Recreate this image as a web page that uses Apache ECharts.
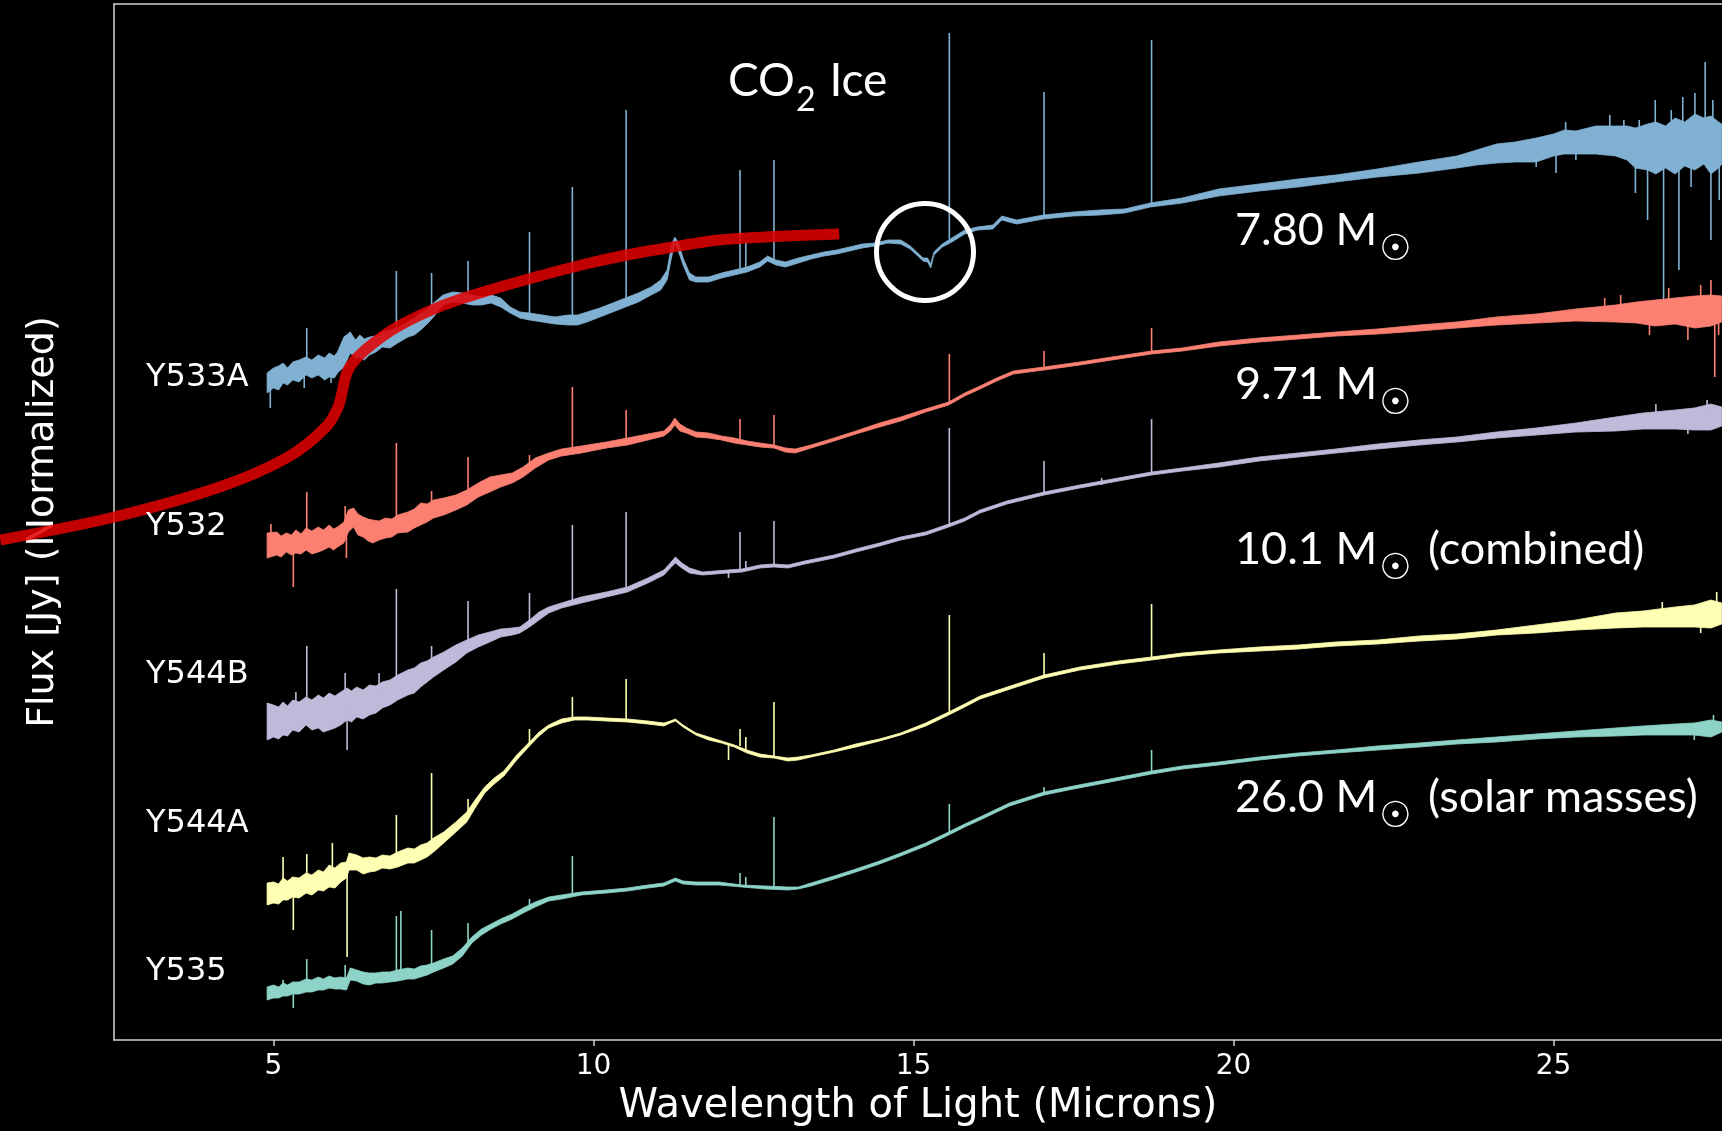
<!DOCTYPE html>
<html>
<head>
<meta charset="utf-8">
<script src="https://cdn.jsdelivr.net/npm/echarts@6/dist/echarts.min.js"></script>
<style>
html,body{margin:0;padding:0;background:#000;}
#chart{width:1722px;height:1131px;}
</style>
</head>
<body>
<div id="chart"></div>
<script>
// ---------------- DATA ----------------
// x: wavelength (microns); y: normalized flux (arbitrary offset units)
const xTicks = [5, 10, 15, 20, 25];
const sourceNames = ['Y533A', 'Y532', 'Y544B', 'Y544A', 'Y535'];
const massValues = ['7.80', '9.71', '10.1', '26.0'];
const massNotes = ['', '', ' (combined)', ' (solar masses)'];
const featureLabel = ['CO', '2', ' Ice'];

// rows: [wavelength, lower edge of noise band, upper edge of noise band]
const bandY533A = [
[4.90,6.47,6.67],[5.00,6.52,6.72],[5.08,6.50,6.74],[5.15,6.57,6.77],[5.22,6.55,6.72],[5.30,6.60,6.78],[5.40,6.58,6.80],[5.51,6.65,6.83],[5.60,6.62,6.80],[5.70,6.65,6.85],
[5.80,6.60,6.82],[5.87,6.63,6.87],[5.95,6.62,6.84],[6.00,6.67,6.88],[6.10,6.73,7.03],[6.20,6.87,7.08],[6.28,6.82,7.00],[6.35,6.83,7.05],[6.42,6.80,7.01],[6.50,6.85,7.03],
[6.60,6.88,7.04],[6.70,6.93,7.08],[6.82,6.92,7.10],[6.94,6.97,7.12],[7.10,7.03,7.18],[7.20,7.05,7.22],[7.30,7.10,7.27],[7.40,7.16,7.31],[7.50,7.23,7.37],[7.65,7.35,7.45],
[7.80,7.38,7.48],[7.95,7.37,7.47],[8.10,7.35,7.45],[8.25,7.35,7.43],[8.40,7.37,7.45],[8.55,7.33,7.42],
[8.70,7.27,7.33],[8.85,7.22,7.28],[9.00,7.20,7.27],[9.20,7.18,7.25],[9.40,7.16,7.23],[9.60,7.15,7.25],
[9.75,7.15,7.25],[9.90,7.18,7.28],[10.10,7.23,7.32],[10.30,7.28,7.37],[10.50,7.33,7.42],[10.70,7.38,7.47],
[10.90,7.45,7.53],[11.05,7.50,7.60],[11.15,7.60,7.70],[11.22,7.83,7.95],[11.27,7.97,8.03],[11.33,7.88,7.97],
[11.40,7.75,7.82],[11.50,7.60,7.67],[11.60,7.58,7.63],[11.80,7.58,7.63],[12.00,7.62,7.67],[12.20,7.65,7.70],
[12.40,7.68,7.73],[12.60,7.73,7.78],[12.72,7.79,7.84],[12.85,7.75,7.80],[13.00,7.73,7.78],[13.20,7.77,7.82],
[13.40,7.81,7.85],[13.60,7.84,7.88],[13.80,7.86,7.90],[14.00,7.89,7.93],[14.20,7.92,7.96],[14.40,7.94,7.97],
[14.60,7.97,8.00],[14.80,7.96,8.00],[14.95,7.91,7.94],[15.05,7.85,7.88],[15.15,7.79,7.82],[15.22,7.78,7.82],
[15.27,7.72,7.76],[15.32,7.85,7.88],[15.45,7.93,7.96],[15.60,7.98,8.02],[15.80,8.06,8.10],[16.00,8.10,8.13],
[16.24,8.11,8.15],[16.38,8.20,8.24],[16.61,8.16,8.20],[17.03,8.21,8.25],[17.50,8.24,8.28],[17.91,8.25,8.30],
[18.30,8.27,8.31],[18.70,8.33,8.37],[19.20,8.37,8.42],[19.77,8.44,8.51],[20.40,8.49,8.56],[21.01,8.53,8.61],
[21.60,8.58,8.65],[22.25,8.63,8.71],[22.90,8.67,8.78],[23.49,8.72,8.84],[23.80,8.75,8.90],[24.11,8.77,8.96],
[24.40,8.78,8.98],[24.73,8.78,9.02],[25.00,8.84,9.06],[25.17,8.86,9.10],[25.35,8.86,9.09],[25.66,8.86,9.14],
[25.97,8.84,9.14],[26.15,8.80,9.14],[26.28,8.72,9.12],[26.47,8.70,9.16],[26.60,8.66,9.18],[26.75,8.72,9.14],
[26.90,8.66,9.22],[27.05,8.74,9.18],[27.21,8.70,9.26],[27.35,8.76,9.22],[27.46,8.66,9.24],[27.58,8.72,9.18],
[27.63,8.76,9.16]
];
const bandY532 = [
[4.90,4.82,5.07],[5.05,4.85,5.08],[5.12,4.83,5.04],[5.20,4.88,5.07],[5.28,4.85,5.05],[5.35,4.87,5.10],[5.43,4.86,5.06],[5.51,4.90,5.12],[5.60,4.86,5.09],[5.70,4.88,5.13],
[5.78,4.90,5.10],[5.87,4.93,5.15],[5.94,4.90,5.11],[6.00,4.93,5.13],[6.10,4.97,5.18],[6.17,5.08,5.30],[6.25,5.13,5.32],[6.32,5.05,5.26],[6.40,5.03,5.23],[6.48,4.99,5.21],
[6.55,4.97,5.20],[6.65,5.00,5.19],[6.75,5.02,5.22],[6.85,5.03,5.21],[6.94,5.07,5.25],[7.10,5.08,5.28],[7.20,5.12,5.31],[7.30,5.15,5.37],[7.40,5.18,5.36],[7.50,5.22,5.40],
[7.66,5.25,5.42],[7.85,5.30,5.45],[8.02,5.35,5.50],[8.20,5.43,5.57],[8.38,5.48,5.63],[8.55,5.53,5.65],
[8.73,5.57,5.67],[8.90,5.63,5.73],[9.09,5.72,5.82],[9.30,5.80,5.87],[9.50,5.84,5.91],[9.81,5.87,5.94],
[10.20,5.92,5.98],[10.53,5.95,6.02],[10.85,6.00,6.06],[11.10,6.04,6.09],[11.20,6.09,6.15],[11.27,6.15,6.22],
[11.35,6.09,6.16],[11.45,6.07,6.12],[11.60,6.03,6.08],[11.80,6.02,6.07],[12.00,6.00,6.04],[12.20,5.97,6.02],
[12.40,5.95,5.99],[12.60,5.93,5.97],[12.82,5.92,5.95],[13.00,5.88,5.92],[13.15,5.87,5.91],[13.40,5.92,5.95],
[13.76,5.99,6.02],[14.10,6.06,6.09],[14.47,6.13,6.17],[14.80,6.19,6.23],[15.19,6.28,6.31],[15.55,6.35,6.38],
[15.80,6.44,6.47],[16.04,6.51,6.54],[16.30,6.59,6.62],[16.56,6.66,6.69],[17.04,6.70,6.73],[17.60,6.75,6.78],
[18.10,6.80,6.83],[18.72,6.86,6.89],[19.20,6.89,6.92],[19.77,6.94,6.98],[20.40,6.98,7.02],[21.01,7.01,7.05],
[21.60,7.04,7.08],[22.25,7.06,7.11],[22.90,7.09,7.15],[23.49,7.12,7.18],[24.11,7.15,7.23],[24.73,7.17,7.26],
[25.35,7.19,7.31],[25.97,7.18,7.35],[26.30,7.17,7.38],[26.59,7.14,7.40],[26.90,7.16,7.42],[27.21,7.12,7.44],
[27.46,7.14,7.45],[27.63,7.18,7.44]
];
const bandY544B = [
[4.90,3.00,3.37],[5.00,3.03,3.35],[5.08,3.01,3.33],[5.15,3.05,3.38],[5.22,3.04,3.34],[5.30,3.10,3.40],[5.40,3.08,3.38],[5.51,3.15,3.43],[5.60,3.10,3.40],[5.70,3.12,3.45],
[5.78,3.08,3.42],[5.87,3.10,3.47],[5.96,3.12,3.44],[6.05,3.15,3.48],[6.15,3.20,3.52],[6.22,3.18,3.49],[6.30,3.23,3.53],[6.40,3.21,3.50],[6.50,3.25,3.55],[6.60,3.27,3.54],
[6.70,3.32,3.58],[6.82,3.35,3.60],[6.94,3.40,3.65],[7.10,3.45,3.70],[7.20,3.47,3.72],[7.30,3.53,3.77],[7.40,3.58,3.79],[7.50,3.63,3.83],[7.66,3.70,3.88],[7.85,3.78,3.95],
[8.02,3.87,4.00],[8.20,3.93,4.05],[8.38,3.98,4.08],[8.55,4.03,4.11],[8.73,4.05,4.12],[8.85,4.07,4.13],
[9.00,4.13,4.20],[9.15,4.20,4.28],[9.30,4.27,4.33],[9.50,4.32,4.37],[9.81,4.37,4.43],[10.20,4.43,4.48],
[10.53,4.48,4.53],[10.85,4.57,4.62],[11.10,4.65,4.70],[11.20,4.72,4.77],[11.28,4.77,4.83],[11.38,4.72,4.77],
[11.50,4.67,4.72],[11.70,4.65,4.68],[11.90,4.66,4.69],[12.10,4.67,4.70],[12.32,4.68,4.71],[12.60,4.72,4.75],
[12.82,4.73,4.76],[13.04,4.72,4.75],[13.30,4.76,4.79],[13.76,4.82,4.85],[14.10,4.88,4.91],[14.47,4.94,4.97],
[14.80,5.00,5.03],[15.19,5.05,5.08],[15.55,5.13,5.16],[15.80,5.19,5.22],[16.04,5.27,5.30],[16.46,5.36,5.39],
[17.04,5.45,5.48],[17.60,5.52,5.55],[18.20,5.59,5.62],[18.72,5.65,5.68],[19.20,5.69,5.72],[19.77,5.73,5.77],
[20.40,5.79,5.83],[21.01,5.83,5.87],[21.60,5.87,5.91],[22.25,5.91,5.96],[22.90,5.95,6.00],[23.49,5.98,6.03],
[24.11,6.02,6.08],[24.73,6.05,6.12],[25.35,6.08,6.17],[25.97,6.09,6.23],[26.40,6.11,6.27],[26.90,6.11,6.30],
[27.20,6.10,6.32],[27.46,6.10,6.36],[27.63,6.14,6.33]
];
const bandY544A = [
[4.90,1.35,1.57],[5.00,1.37,1.58],[5.08,1.36,1.56],[5.15,1.40,1.62],[5.22,1.40,1.59],[5.30,1.43,1.63],[5.40,1.42,1.62],[5.51,1.47,1.67],[5.60,1.45,1.65],[5.70,1.50,1.70],
[5.78,1.49,1.68],[5.87,1.53,1.75],[5.96,1.52,1.72],[6.05,1.58,1.77],[6.14,1.62,1.78],[6.18,1.70,1.87],[6.30,1.70,1.85],[6.40,1.66,1.82],[6.50,1.68,1.83],[6.60,1.69,1.82],
[6.70,1.72,1.85],[6.82,1.71,1.84],[6.94,1.73,1.88],[7.10,1.77,1.92],[7.20,1.77,1.91],[7.30,1.80,1.95],[7.40,1.83,1.97],[7.50,1.88,2.02],[7.66,1.97,2.08],
[7.85,2.08,2.18],[8.02,2.18,2.28],[8.15,2.32,2.40],[8.30,2.47,2.53],[8.45,2.56,2.62],[8.60,2.64,2.69],
[8.80,2.80,2.85],[9.00,2.94,2.98],[9.15,3.04,3.08],[9.30,3.12,3.15],[9.50,3.17,3.21],[9.70,3.20,3.23],
[9.90,3.20,3.23],[10.20,3.19,3.22],[10.53,3.18,3.21],[10.85,3.16,3.19],[11.10,3.14,3.17],[11.20,3.17,3.19],
[11.28,3.19,3.21],[11.40,3.13,3.15],[11.60,3.05,3.07],[11.80,3.00,3.03],[12.00,2.97,2.99],[12.20,2.93,2.95],
[12.40,2.87,2.90],[12.60,2.83,2.86],[12.82,2.82,2.84],[13.04,2.79,2.82],[13.20,2.80,2.83],[13.40,2.83,2.85],
[13.76,2.88,2.90],[14.10,2.93,2.96],[14.47,2.99,3.01],[14.80,3.05,3.07],[15.19,3.14,3.17],[15.55,3.25,3.28],
[15.80,3.33,3.36],[16.04,3.41,3.44],[16.56,3.52,3.55],[17.04,3.62,3.65],[17.60,3.70,3.73],[18.20,3.76,3.79],
[18.72,3.80,3.83],[19.20,3.84,3.87],[19.77,3.87,3.90],[20.40,3.89,3.93],[21.01,3.91,3.95],[21.60,3.94,3.98],
[22.25,3.96,4.00],[22.90,3.99,4.04],[23.49,4.01,4.06],[24.11,4.05,4.10],[24.73,4.07,4.15],[25.35,4.10,4.20],
[25.97,4.12,4.27],[26.40,4.13,4.29],[26.90,4.13,4.33],[27.20,4.13,4.35],[27.46,4.12,4.40],[27.63,4.16,4.37]
];
const bandY535 = [
[4.90,0.40,0.53],[5.00,0.42,0.55],[5.08,0.42,0.53],[5.15,0.44,0.57],[5.22,0.44,0.55],[5.30,0.46,0.58],[5.40,0.46,0.58],[5.51,0.48,0.61],[5.60,0.48,0.60],[5.70,0.50,0.63],
[5.78,0.50,0.61],[5.87,0.52,0.64],[5.96,0.51,0.62],[6.05,0.51,0.63],[6.14,0.50,0.62],[6.20,0.60,0.72],[6.30,0.59,0.70],[6.40,0.56,0.68],[6.50,0.55,0.67],[6.60,0.57,0.67],
[6.70,0.57,0.68],[6.82,0.58,0.68],[6.94,0.59,0.70],[7.10,0.61,0.72],[7.20,0.61,0.71],[7.30,0.63,0.74],[7.40,0.65,0.75],[7.50,0.68,0.77],[7.66,0.72,0.81],
[7.80,0.76,0.84],[7.95,0.84,0.92],[8.10,0.97,1.03],[8.25,1.05,1.11],[8.40,1.11,1.16],[8.55,1.16,1.21],
[8.73,1.21,1.26],[8.90,1.27,1.32],[9.09,1.33,1.38],[9.30,1.39,1.43],[9.50,1.41,1.45],[9.81,1.45,1.48],
[10.20,1.47,1.50],[10.53,1.49,1.52],[10.85,1.52,1.55],[11.10,1.54,1.57],[11.28,1.59,1.62],[11.40,1.56,1.59],
[11.60,1.55,1.58],[11.96,1.55,1.58],[12.32,1.53,1.55],[12.68,1.51,1.54],[13.04,1.50,1.53],[13.20,1.51,1.53],
[13.40,1.54,1.57],[13.76,1.61,1.64],[14.10,1.68,1.71],[14.47,1.76,1.79],[14.80,1.84,1.87],[15.19,1.94,1.97],
[15.55,2.05,2.08],[15.80,2.13,2.16],[16.04,2.20,2.23],[16.50,2.34,2.37],[17.04,2.45,2.48],[17.50,2.51,2.54],
[17.91,2.56,2.59],[18.72,2.66,2.69],[19.20,2.71,2.74],[19.77,2.75,2.78],[20.40,2.80,2.83],[21.01,2.84,2.87],
[21.60,2.87,2.90],[22.25,2.90,2.94],[22.90,2.93,2.97],[23.49,2.96,3.00],[24.11,2.98,3.03],[24.73,3.01,3.06],
[25.35,3.03,3.09],[25.97,3.04,3.12],[26.40,3.05,3.14],[26.90,3.05,3.16],[27.20,3.05,3.17],[27.46,3.03,3.20],
[27.63,3.08,3.18]
];

// emission / absorption spikes and large noise excursions: [wavelength, continuum level, tip]
const linesY533A = [
[4.95,6.55,6.32],[5.48,6.70,6.52],[5.52,6.75,7.12],[5.90,6.75,6.57],[6.92,7.05,7.69],[7.47,7.30,7.67],
[8.04,7.42,7.79],[9.00,7.24,8.08],[9.67,7.20,8.53],[10.51,7.38,9.30],[12.29,7.69,8.70],[12.38,7.70,7.98],
[12.82,7.80,8.80],[15.56,8.01,10.07],[17.04,8.23,9.48],[18.72,8.35,10.00],
[24.73,8.90,8.73],[25.04,8.95,8.67],[25.19,8.95,9.18],[25.35,8.95,8.80],[25.60,9.00,9.07],[25.88,9.00,9.25],
[26.10,9.00,9.20],[26.28,8.95,8.47],[26.34,8.95,9.20],[26.47,8.90,8.20],[26.59,8.90,9.40],[26.72,8.90,7.27],
[26.84,8.90,9.30],[26.96,8.90,7.70],[27.02,8.90,9.43],[27.15,8.95,8.53],[27.21,8.95,9.47],[27.37,9.00,9.78],
[27.46,8.95,8.00],[27.49,8.95,9.40],[27.59,8.95,8.40]
];
const linesY532 = [
[4.96,4.97,5.16],[5.31,4.97,4.53],[5.52,5.01,5.48],[6.12,5.05,5.34],[6.14,5.05,4.82],[6.92,5.15,5.97],
[7.47,5.30,5.49],[8.04,5.43,5.83],[9.00,5.68,5.85],[9.67,5.88,6.53],[10.51,5.98,6.30],[12.29,5.99,6.21],
[12.82,5.94,6.25],[15.56,6.37,6.86],[17.04,6.71,6.89],[18.72,6.87,7.12],
[25.80,7.27,7.42],[26.05,7.27,7.45],[26.50,7.27,7.05],[26.80,7.30,7.52],[27.10,7.30,7.00],[27.30,7.30,7.55],
[27.46,7.30,7.60],[27.52,7.30,6.63],[27.58,7.30,7.05]
];
const linesY544B = [
[5.35,3.27,3.48],[5.52,3.28,3.94],[6.12,3.35,3.67],[6.15,3.35,2.90],[6.65,3.45,3.67],[6.92,3.52,4.51],
[7.47,3.73,3.94],[8.04,3.93,4.39],[9.00,4.16,4.47],[9.67,4.38,5.15],[10.51,4.51,5.28],[12.11,4.69,4.62],
[12.29,4.70,5.08],[12.38,4.71,4.79],[12.82,4.75,5.19],[15.56,5.15,6.12],[17.04,5.46,5.79],[17.94,5.55,5.62],
[18.72,5.66,6.21],[26.60,6.20,6.36],[27.10,6.20,6.06],[27.40,6.22,6.40]
];
const linesY544A = [
[5.15,1.51,1.83],[5.31,1.53,1.10],[5.52,1.57,1.86],[5.92,1.64,1.97],[6.15,1.70,0.83],[6.92,1.80,2.25],
[7.47,1.95,2.67],[8.04,2.23,2.41],[9.00,2.96,3.11],[9.67,3.21,3.43],[10.51,3.20,3.61],[12.11,2.96,2.80],
[12.29,2.94,3.11],[12.38,2.90,3.03],[12.82,2.83,3.38],[15.56,3.27,4.25],[17.04,3.63,3.87],[18.72,3.81,4.36],
[26.70,4.22,4.38],[27.30,4.25,4.07],[27.55,4.28,4.48]
];
const linesY535 = [
[5.15,0.50,0.60],[5.31,0.52,0.32],[5.52,0.54,0.81],[6.12,0.57,0.75],[6.92,0.64,1.24],[6.99,0.65,1.29],
[7.47,0.72,1.10],[8.04,0.97,1.17],[9.00,1.35,1.41],[9.67,1.46,1.84],[12.29,1.54,1.67],[12.38,1.54,1.63],
[12.82,1.52,2.23],[15.56,2.07,2.36],[17.04,2.47,2.53],[18.72,2.68,2.90],[27.20,3.11,3.00],[27.50,3.12,3.25]
];

// hand-drawn red "ice" annotation curve: [wavelength, flux]
const iceCurve = [
[0.73,5.00],[2.45,5.22],[4.16,5.53],[5.23,5.83],[5.82,6.13],[6.01,6.33],[6.08,6.50],[6.12,6.62],
[6.20,6.74],[6.43,6.90],[6.93,7.13],[7.66,7.35],[8.38,7.50],[9.10,7.63],[9.81,7.75],[10.52,7.85],
[11.24,7.93],[11.96,8.00],[12.68,8.03],[13.84,8.06]
];

// ---------------- CHART ----------------
const colors = ['#80b1d3', '#fb8072', '#bebada', '#ffffb3', '#8dd3c7'];
const bands = [bandY533A, bandY532, bandY544B, bandY544A, bandY535];
const lines = [linesY533A, linesY532, linesY544B, linesY544A, linesY535];

const xMin = 2.508, xMax = 27.633;
const axisColor = '#d4d4d4';

function bandSeries(name, rows, color) {
  return {
    type: 'custom', name: name, coordinateSystem: 'cartesian2d', silent: true,
    encode: { x: 0, y: 1 },
    data: [[rows[0][0], rows[0][1]]],
    renderItem: function (params, api) {
      const pts = [];
      for (let i = 0; i < rows.length; i++) pts.push(api.coord([rows[i][0], rows[i][2]]));
      for (let i = rows.length - 1; i >= 0; i--) pts.push(api.coord([rows[i][0], rows[i][1]]));
      return { type: 'polygon', shape: { points: pts },
        style: { fill: color, stroke: color, lineWidth: 0.8, lineJoin: 'round' } };
    }
  };
}
function lineSeries(name, rows, color) {
  return {
    type: 'custom', name: name + ' lines', coordinateSystem: 'cartesian2d', silent: true,
    encode: { x: 0, y: [1, 2] },
    data: rows,
    renderItem: function (params, api) {
      const a = api.coord([api.value(0), api.value(1)]);
      const b = api.coord([api.value(0), api.value(2)]);
      return { type: 'line', shape: { x1: a[0], y1: a[1], x2: b[0], y2: b[1] },
        style: { stroke: color, lineWidth: 1.6 } };
    }
  };
}

const series = [];
sourceNames.forEach(function (n, i) {
  series.push(bandSeries(n, bands[i], colors[i]));
  series.push(lineSeries(n, lines[i], colors[i]));
});
series.push({
  type: 'custom', name: 'ice', coordinateSystem: 'cartesian2d', silent: true, clip: false, z: 10,
  encode: { x: 0, y: 1 },
  data: [iceCurve[10]],
  renderItem: function (params, api) {
    const pts = iceCurve.map(function (d) { return api.coord(d); });
    return { type: 'polyline', shape: { points: pts, smooth: 0.3 },
      style: { stroke: 'rgba(226,0,0,0.86)', lineWidth: 11, fill: null, lineCap: 'butt', lineJoin: 'round' } };
  }
});

const labelCenters = [378, 526.5, 675, 823.5, 972];
const massTops = [207.5, 361.5, 526.5, 774.5];

const graphic = [];
sourceNames.forEach(function (n, i) {
  graphic.push({ type: 'text', x: 146, y: labelCenters[i], z: 50,
    style: { text: n, fill: '#ffffff', fontSize: 32, fontFamily: 'DejaVu Sans', verticalAlign: 'middle', align: 'left' } });
});
const massRich = {
  m: { fontFamily: 'Lato', fontSize: 45, lineHeight: 50, verticalAlign: 'top', fill: '#ffffff' },
  s: { fontFamily: 'DejaVu Sans', fontSize: 36, lineHeight: 36, padding: [25, 5, 0, 2], verticalAlign: 'top', fill: '#ffffff' }
};
massValues.forEach(function (v, i) {
  let t = '{m|' + v + ' M}{s|\u2609}';
  if (massNotes[i]) t += '{m|' + massNotes[i] + '}';
  graphic.push({ type: 'text', x: 1235, y: massTops[i], z: 50,
    style: { text: t, rich: massRich, fill: '#ffffff', verticalAlign: 'top', align: 'left' } });
});
graphic.push({ type: 'text', x: 728, y: 58, z: 50,
  style: { text: '{m|' + featureLabel[0] + '}{s|' + featureLabel[1] + '}{m|' + featureLabel[2] + '}',
    fill: '#ffffff', verticalAlign: 'top', align: 'left',
    rich: {
      m: { fontFamily: 'Lato', fontSize: 46, lineHeight: 52, verticalAlign: 'top', fill: '#ffffff' },
      s: { fontFamily: 'Lato', fontSize: 34, lineHeight: 34, padding: [25, 2, 0, 1], verticalAlign: 'top', fill: '#ffffff' }
    } } });
graphic.push({ type: 'circle', z: 60, shape: { cx: 925, cy: 252, r: 48.5 },
  style: { fill: 'none', stroke: '#ffffff', lineWidth: 5 } });

const chart = echarts.init(document.getElementById('chart'), null, { renderer: 'canvas' });
chart.setOption({
  backgroundColor: '#000000',
  animation: false,
  grid: { left: 114, right: 0, top: 4, bottom: 91, containLabel: false, outerBoundsMode: 'none' },
  xAxis: [{
    type: 'value', position: 'bottom', min: xMin, max: xMax,
    axisLine: { show: true, onZero: false, lineStyle: { color: axisColor, width: 1.5 } },
    axisTick: { show: true, length: 6, customValues: xTicks, lineStyle: { color: axisColor, width: 1.5 } },
    axisLabel: { show: true, customValues: xTicks, color: '#ffffff', fontSize: 28, fontFamily: 'DejaVu Sans', margin: 13 },
    splitLine: { show: false },
    name: 'Wavelength of Light (Microns)', nameLocation: 'middle', nameGap: 47,
    nameTextStyle: { color: '#ffffff', fontSize: 40, fontFamily: 'DejaVu Sans' }
  }, {
    type: 'value', position: 'top', min: xMin, max: xMax,
    axisLine: { show: true, onZero: false, lineStyle: { color: axisColor, width: 1.5 } },
    axisTick: { show: false }, axisLabel: { show: false }, splitLine: { show: false }
  }],
  yAxis: {
    type: 'value', min: 0, max: 10.36,
    axisLine: { show: true, onZero: false, lineStyle: { color: axisColor, width: 1.5 } },
    axisTick: { show: false }, axisLabel: { show: false }, splitLine: { show: false },
    name: 'Flux [Jy] (Normalized)', nameLocation: 'middle', nameGap: 52,
    nameTextStyle: { color: '#ffffff', fontSize: 38, fontFamily: 'DejaVu Sans' }
  },
  series: series,
  graphic: graphic
});
</script>
</body>
</html>
